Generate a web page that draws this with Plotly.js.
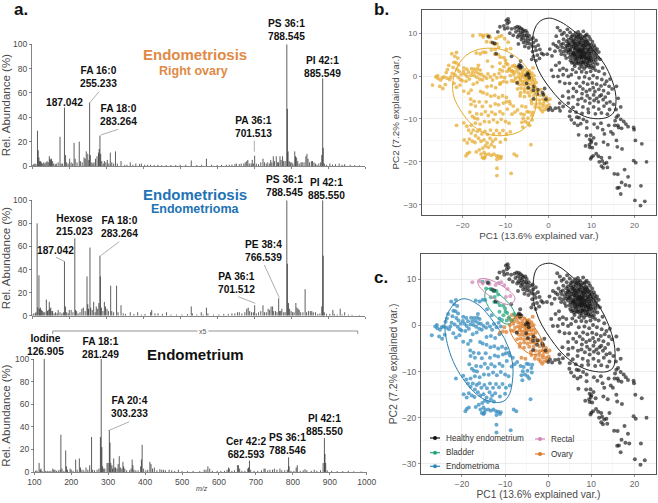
<!DOCTYPE html>
<html><head><meta charset="utf-8">
<script src="https://cdn.plot.ly/plotly-3.0.1.min.js"></script>
<style>html,body{margin:0;padding:0;background:#fff}#g{width:658px;height:503px}</style>
</head><body><div id="g"></div>
<script>
// ---- spectra: [m/z, relative abundance]
const spectrumRightOvary=[[101,1],[104,1.5],[107,2],[110,1.5],[114,29],[116,13],[118,7],[120,4],[122,4],[125,3],[128,2],[131,3],[134,2],[137,3],[140,4],[143,3],[146,8],[148,6],[150,5],[152,6],[155,4],[158,2],[162,1.5],[165,2],[170,3],[175,24],[178,2],[182,2],[187,48],[190,9],[193,3],[197,2],[201,6],[205,3],[209,2],[213,19],[216,6],[221,3],[227,20],[230,4],[235,3],[240,7],[243,6],[246,12],[250,10],[253,5],[255,52],[257,9],[261,3],[264,2],[267,3],[271,6],[275,8],[279,11],[281,14],[283,25],[285,10],[288,4],[292,2],[295,4],[299,3],[303,5],[307,2],[311,11],[315,3],[320,2],[325,12],[330,2],[340,4],[350,1],[356,1],[365,3],[372,1],[380,2],[390,1.5],[395,2],[404,1],[412,1],[420,1],[430,.8],[440,1],[450,.7],[462,.8],[475,.8],[488,.8],[500,1],[515,1],[530,4.5],[545,.8],[558,1],[571,6],[585,1],[600,.8],[612,1],[625,1],[633,1],[640,1.2],[648,1.5],[652,2],[660,1.5],[665,2],[672,2],[676,3],[680,4],[683,5],[687,2],[692,2],[695,5],[698,2],[701.5,8.5],[706,2],[712,1.5],[718,3],[724,6],[728,3],[733,2],[737,3],[742,2],[745,5],[748,3],[752,8],[755,4],[760,8],[763,3],[766,3],[770,8],[773,5],[777,8],[780,4],[784,4],[788.5,100],[790,47],[792,12],[795,4],[798,3],[802,3],[805,2],[810,12],[812,8],[815,7],[818,4],[822,2],[827,3],[830,3],[835,3],[840,8],[843,10],[846,6],[850,3],[855,4],[858,4],[862,3],[866,2],[870,1],[875,2],[880,3],[883,9],[885.5,72],[887,15],[890,2],[896,1],[905,2],[912,1.2],[920,1.5],[930,2],[938,1],[945,1.5],[960,1],[972,.7],[985,.5]];
const spectrumEndometrioma=[[101,1],[104,2],[108,2],[110,3],[113,80],[115,7],[118,35],[120,6],[122,7],[125,5],[128,4],[131,3],[134,3],[138,14],[141,4],[143,5],[146,12],[148,6],[150,7],[153,4],[155,4],[159,2],[163,3],[167,2],[170,5],[175,3],[180,2],[184,3],[187,47],[190,8],[193,3],[197,2],[200,5],[205,5],[210,3],[215,67],[217,5],[220,4],[224,2],[229,3],[234,6],[238,7],[243,4],[248,34],[250,10],[252,6],[256,59],[258,7],[262,5],[266,12],[270,3],[273,8],[276,6],[280,11],[283,52],[284,34],[287,7],[291,4],[295,12],[298,8],[302,6],[306,4],[312,26],[315,4],[320,3],[328,26],[332,3],[340,9],[346,2],[352,1.5],[365,3],[375,1.5],[385,3],[395,1],[405,1.5],[420,3],[423,5],[432,2],[440,2],[452,1.5],[463,3],[475,1],[490,1],[505,1],[520,1.5],[530,8],[533,2],[545,1],[557,3],[562,1],[571,7],[575,2],[590,1],[605,1],[618,1.5],[630,1.5],[640,2],[648,2],[655,3],[660,3],[667,2],[675,3],[680,6],[684,7],[688,4],[693,3],[698,3],[701.5,9],[706,2],[712,3],[718,4],[724,9],[728,3],[733,3],[738,6],[742,5],[746,8],[750,8],[753,4],[758,4],[762,3],[766.5,15],[769,4],[772,4],[775,6],[780,3],[784,3],[788.5,100],[790,45],[793,11],[796,6],[800,4],[804,3],[808,3],[813,11],[816,7],[819,6],[822,5],[826,3],[832,3],[838,23],[842,3],[847,4],[852,4],[856,4],[860,3],[866,3],[872,1.5],[878,2],[883,8],[885.5,100],[887,52],[890,3],[896,1.5],[905,1.5],[913,5],[917,1.5],[925,1],[933,6],[938,1],[945,3],[955,1],[965,.8],[985,.6]];
const spectrumEndometrium=[[103,1],[107,1.5],[113,8],[116,2],[118,3],[121,1],[126.9,100],[130,1],[135,1],[140,1],[145,1],[150,3],[153,2],[156,2],[160,1],[165,1.5],[170,2],[172,33],[175,3],[180,1],[185,19],[187,5],[190,2],[197,3],[200,2],[205,1],[212,11],[216,2],[222,12],[225,4],[229,2],[234,1.5],[240,4],[245,2],[250,6],[255,31],[258,2],[263,1.5],[270,2],[275,3],[279,31],[281.2,100],[283,22],[285,5],[288,3],[291,3],[297,8],[300,8],[303.2,37],[305,26],[307,8],[310,6],[312,3],[315,12],[318,4],[320,4],[324,3],[327,7],[330,14],[333,4],[337,3],[340,9],[342,5],[345,3],[350,1.5],[358,1.5],[362,3],[365,11],[367,6],[370,2],[375,1.5],[381,1.5],[388,5],[390,11],[392,24],[396,3],[402,1.5],[407,2],[413,9],[416,7],[420,3],[425,4],[432,1.5],[440,2.5],[445,2],[450,2],[455,1.5],[465,2],[472,1.5],[480,1],[490,2],[500,.8],[515,.8],[530,1],[548,.8],[560,2],[565,2],[570,5],[575,3],[582,1],[595,1],[605,1],[615,1],[622,2],[626,4],[628,3],[635,1],[642,1.5],[650,6],[653,6],[656,3],[662,1],[670,1],[678,3],[680,4],[682.6,10],[686,2],[695,1],[705,1],[715,1.5],[722,3],[725,3],[732,1.5],[738,2],[745,2],[750,3],[757,2],[765,3],[770,1.5],[778,1.5],[785,2],[788.5,13],[790,5],[795,1],[803,1],[809,4],[812,6],[820,1],[828,1.5],[833,2.5],[838,1.5],[850,1],[858,2],[865,1],[875,1.5],[882,8],[885.5,30],[887,16],[889,8],[893,1.5],[905,1],[920,.8],[935,.8],[950,1],[965,.6],[985,.5]];

// ---- PCA scores: [PC1, PC2]
const healthyUpperLeft=[[-9.4,13.3],[-9.8,13],[-9.2,12.6],[-9.6,12.2],[-10.4,11.7],[-11.3,11.5],[-10.2,11],[-9.5,11.2],[-11.8,10.3],[-9,10],[-8.6,11],[-7.8,11.2],[-7.3,11.5],[-6.8,11.4],[-6.4,11.1],[-6,10.8],[-7,10.7],[-7.6,10.3],[-6.5,10.2],[-5.8,10.4],[-5.3,10.6],[-5,10.1],[-6.1,9.8],[-6.9,9.6],[-5.6,9.5],[-5.1,9.4],[-6.4,9.2],[-5.9,8.9],[-4.9,8.9],[-4.5,9.4],[-7.2,9.1],[-8.2,9.5],[-6.3,8.5],[-5.4,8.3],[-4.7,8.2],[-4.1,8.6],[-3.6,8.9],[-5.8,7.8],[-5,7.6],[-4.3,7.5],[-3.5,7.8],[-2.9,8.3],[-3.8,7],[-3.1,6.8],[-2.4,7.2],[-4.6,6.6],[-5.5,6.9],[-7,7.5],[-2.9,6],[-2,6.2],[-3.7,5.7],[-1.6,5.3],[-2.6,4.9],[-3.5,4.6],[-3.9,3.9],[-2.9,3.6],[-2.1,4.1],[-1.2,5],[-6.5,3.5],[-13,7.8],[-12.5,7.6],[-14,9.2],[-12.2,5.2],[-8.6,4.6],[-6.8,2.6],[-6.5,2.4],[-6.2,2.1],[-7,2.2],[-6.6,1.9],[-4.8,.7],[-5.2,.2],[-4.6,.4],[-4.5,-.4],[-7.3,-1.6],[-5.1,-1.7],[-3.4,-2.4],[-2.5,-3.2],[-3.5,-3.3],[-2.6,-4.2],[-1.2,-4.4],[-1.4,-3.9],[-.9,-2.9],[-3.5,-5.3],[-4.7,-2.7],[-.6,-5.4],[.4,-7.4],[0,-7.9],[.9,-8],[1.6,-7.5],[2.4,-7.4],[2.7,-8.1]];
const healthyCore=[[2.1,11.3],[4.4,10.9],[2.7,10.6],[1.8,9.3],[3.1,9.7],[3.6,10.1],[4.3,9.4],[5,10.2],[5.6,9.6],[6.3,10],[6.9,10.3],[7.4,9.7],[8.1,10.4],[8.9,9.7],[8.4,9],[9.4,9.2],[5.2,8.8],[5.9,8.5],[6.5,9.2],[7.2,8.7],[7.7,8.3],[8.8,8.4],[9.7,8.6],[10.2,8],[3.5,8.6],[2.4,8],[4.2,8.1],[4.8,7.7],[5.4,8.2],[6.1,7.8],[6.8,8.1],[7.4,7.9],[8.1,7.6],[8.5,7.8],[9.2,7.7],[9.9,7.3],[10.6,7.2],[1.1,7.5],[1.7,7.1],[2.9,7.3],[3.4,7.6],[4.1,7.1],[4.9,7.2],[5.6,7.4],[6.3,7.2],[6.9,7.4],[7.6,7.3],[8.2,7],[8.9,7.1],[9.5,6.8],[10.1,6.7],[10.8,6.6],[11.3,6.3],[.3,6.3],[2.2,6.7],[3.2,6.7],[3.9,6.4],[4.4,6.8],[5.1,6.3],[5.8,6.9],[6.4,6.5],[7.1,6.8],[7.8,6.5],[8.3,6.3],[9.1,6.2],[9.8,6.4],[10.4,6],[11,5.8],[11.7,5.6],[1.5,5.8],[2.7,5.9],[3.5,5.7],[4.2,5.8],[4.7,6.1],[5.5,5.6],[6.1,6.1],[6.8,5.7],[7.4,6],[7.9,5.8],[8.7,5.6],[9.3,5.7],[9.9,5.3],[10.6,5.2],[11.1,5],[-.3,5.1],[.8,4.7],[3,5.1],[3.8,4.9],[4.6,5.4],[5.2,5],[5.8,5.2],[6.5,5],[7,5.3],[7.6,5],[8.3,4.9],[8.9,4.8],[9.6,4.7],[10.2,4.6],[10.9,4.4],[11.5,4.3],[12,3.9],[4.1,4.2],[4.9,4.4],[5.6,4.1],[6.2,4.5],[6.7,4.2],[7.3,4.5],[7.9,4.3],[8.6,4.1],[9.2,4],[9.8,4.2],[10.4,3.8],[11,3.7],[5.1,3.6],[5.8,3.3],[6.4,3.7],[7,3.4],[7.7,3.8],[8.2,3.5],[9,3.3],[9.5,3.5],[10.1,3.1],[10.8,3],[11.4,2.8],[6,2.8],[6.8,2.9],[7.4,2.6],[8.1,2.9],[8.7,2.6],[9.3,2.5],[9.9,2.4],[10.6,2.2],[5.3,9.2],[6.1,9.3],[7,9.6],[7.9,9.2],[8.6,9.4],[4.6,8.5],[5.7,8],[6.4,8.6],[7.1,7.7],[7.9,7.1],[8.6,7.3],[9.4,7.4],[4.6,7.5],[5.3,6.8],[6,6.5],[6.6,7],[7.3,6.3],[8,6.1],[8.6,6.6],[9.3,6.1],[10,5.8],[5,5.9],[5.9,5.4],[6.4,5.6],[7,6],[7.6,5.6],[8.3,5.5],[8.9,5.3],[9.5,5.2],[5.6,4.8],[6.1,4.9],[6.8,4.6],[7.4,4.9],[8,4.7],[8.5,4.5],[9.3,4.4],[9.9,3.7],[6.3,4],[7.2,4.1],[7.9,3.2],[8.5,3.3],[9.2,3],[6.6,3.1],[7.5,3.1],[8.8,2.2],[7.8,2.2],[9.6,2],[10.3,1.8],[6.9,9.1],[7.6,8.8],[8.3,8.2],[9,8.1],[6.2,7.6],[6.8,6.2],[7.4,5.5],[8.1,5.2],[8.7,4.1],[9.4,3.9],[7.7,4.4],[5.4,3.1],[6.1,2.3],[7.2,1.8],[8.3,1.7]];
const healthySparse=[[.7,1.4],[1.1,-.1],[2.6,1.4],[3.4,1.8],[4.2,1.4],[2.2,-.1],[3.4,.3],[4.6,-.1],[5.3,.3],[2.6,-1.3],[3.8,-1.7],[4.9,-1.7],[6.5,-1.7],[7.3,-2.4],[4.6,-3.6],[6.5,-3.6],[8.8,-3.6],[9.6,-3.2],[10.8,-3.6],[5.7,-4.8],[7.7,-5.2],[9.6,-5.2],[11.2,-5.2],[12.3,-4.4],[13.9,-4],[2.6,-6.3],[4.6,-6.3],[6.9,-5.5],[9.6,-6.3],[11.6,-6],[12.7,-5.5],[14.3,-6],[16.2,-5.2],[15.8,-2.4],[2.5,3.1],[1.7,2.5],[5.6,1.5],[6.4,.9],[7.7,1],[8.8,.8],[9.8,1.1],[10.9,1.4],[11.7,1.1],[12.6,1.9],[13,.5],[7.1,-.4],[8.4,-.2],[9.5,-.6],[10.4,.1],[11.3,-.4],[12.4,-.8],[13.5,-1.2],[14.3,-.7],[8.1,-1.5],[9.1,-1.9],[10.2,-1.6],[11.2,-1.9],[12.2,-2.3],[13.1,-1.9],[14.1,-2.4],[14.8,-3],[5.8,-2.9],[8,-3],[10.4,-2.7],[11.7,-3.1],[12.8,-3.4],[7.8,-4.1],[9,-4.6],[10.5,-4.4],[11.9,-4.7],[13.2,-4.9],[3.3,-4.7],[4.7,-5.1],[8.5,-5.8],[10.6,-5.7],[13.5,-6.3],[15.1,-6.6],[3.4,-7.1],[5.7,-7.3],[6.8,-6.6],[8,-7.2],[9.2,-7.7],[10.5,-7.2],[11.7,-7.7],[12.9,-7],[14.2,-7.8],[15.7,-7.8],[16.8,-7.2],[6.4,-8.4],[7.8,-8.7],[9.3,-8.5],[10.9,-8.8],[12.3,-8.6],[13.7,-8.9],[5,-8.2]];
const healthyTail=[[6.6,-9.6],[5.3,-10.2],[7.1,-9.7],[8.1,-10.1],[8.9,-10.6],[7.5,-11.1],[6.8,-11.5],[7,-13.7],[8.8,-13.9],[9.8,-13.8],[9.6,-14.8],[10,-15.1],[10.5,-14.4],[9.9,-15.5],[9.5,-16],[9.6,-16.6],[10.2,-16.7],[11,-15.8],[8.6,-16.3],[10.4,-18.6],[11.1,-18.1],[11.6,-18.7],[12.3,-19],[10,-18.9],[9.8,-19.3],[11.8,-20],[12.5,-19.8],[13,-20.4],[13.5,-20.2],[12.3,-21],[12.7,-21.4],[13.7,-21.3],[14.2,-19],[16.1,-22.9],[15.3,-22.8],[18.5,-23.5],[17.7,-21.8],[19.8,-19.7],[20.3,-20.2],[22.8,-20],[21.7,-15.8],[20.2,-15],[17.1,-17],[16,-16.5],[15.8,-15],[15,-13.5],[14.5,-13],[16.3,-12],[13,-13.5],[12.8,-15.4],[13.8,-16],[12.6,-12.5],[11.4,-12],[12.2,-11],[14,-11.5],[15.5,-10.4],[15.8,-9.6],[16.2,-9.2],[16.8,-10.1],[17.5,-10.6],[18,-11.2],[18.5,-11.8],[19.8,-12],[19.9,-12.5],[17,-12.2],[16.1,-11.5],[15.4,-11.5],[16.4,-26],[17,-24.8],[17.9,-25.4],[18.8,-25.6],[16.8,-27.5],[20.1,-29],[21.4,-30.2],[22.4,-29.2],[21.5,-25.6],[16,-26.1],[8.9,-12.1],[10.6,-11.2],[4.9,-9.4],[6,-11]];
const endometriomaPts=[[-27,-2.1],[-26.2,-.2],[-25.7,-.6],[-25.8,.1],[-25.1,-.9],[-24.7,-.4],[-24.3,-.2],[-25.3,-2.4],[-24.6,-2.9],[-24,-2],[-23.8,.8],[-23.5,1.5],[-23.2,2.5],[-23.6,-.5],[-23,-.8],[-22.7,-.2],[-22.4,.6],[-22.2,2],[-22,3.2],[-21.8,4.6],[-22.5,5.2],[-21.4,5.5],[-21.1,4.2],[-21.5,3.1],[-20.9,2.6],[-21.3,1.6],[-20.8,1.1],[-21.7,.2],[-21,-.3],[-20.5,-.8],[-22,-1.7],[-21.4,-2.6],[-20.6,-2.1],[-20.1,-1.1],[-20.3,.4],[-19.8,1],[-19.4,.4],[-19.7,1.9],[-19,1.6],[-18.6,.9],[-18.9,-.1],[-19.2,-1.2],[-18.4,-.7],[-18,.2],[-17.6,.9],[-17.9,1.7],[-17.2,1.6],[-16.8,.9],[-17.3,.1],[-16.7,-.3],[-16.2,.5],[-16.5,1.7],[-15.9,1.4],[-15.6,.4],[-16,-.7],[-15.4,-.9],[-16.6,-1.5],[-17.5,-1.9],[-15,-.1],[-14.4,-.5],[-14.1,.5],[-13.5,-.2],[-13,-.9],[-12.6,.3],[-12,-.4],[-11.5,.6],[-11,-.2],[-14.3,-2.5],[-13.3,-2.3],[-12.3,-2.7],[-11.3,-1.9],[-16.3,2.5],[-14.6,5.5],[-15.2,5.6],[-15.9,5.2],[-16.8,5.4],[-14.2,3.5],[-13.1,2.2],[-11.3,1.5],[-18.6,-4],[-18,-3.3],[-19.7,-3.5],[-18.1,-5.4],[-17.3,-5.9],[-18,-6.6],[-17,-7],[-16.1,-6],[-15.2,-3.9],[-15.8,-3.6],[-14.3,-4.2],[-13.4,-4.7],[-12.5,-4.5],[-11.6,-5],[-10.7,-4.6],[-9.8,-5],[-9.1,-5.9],[-9.8,-6],[-10.5,-6.3],[-8.9,-6.5],[-8.2,-7],[-11.6,-6.7],[-12.4,-6.5],[-13.5,-7],[-14.5,-6],[-15.4,-7.1],[-16.7,-8.8],[-18.3,-8.4],[-17.7,-9.4],[-17.2,-9.8],[-16.5,-10],[-15.6,-8.9],[-14.7,-8.3],[-14,-9.2],[-13.2,-8.4],[-12.4,-8.9],[-11.3,-8.3],[-10.6,-8.8],[-9.6,-7.7],[-8.5,-8.9],[-7.8,-8.4],[-7.2,-7.9],[-6.4,-8.8],[-5.7,-9],[-5,-8.3],[-4.5,-8.4],[-3.7,-8.5],[-3.9,-9.2],[-4.8,-9.8],[-5.9,-9.9],[-3.8,-10.2],[-5.4,-10.6],[-6.2,-10.8],[-4.8,-11],[-4.4,-11.5],[-6,-11.9],[-21.4,-11.5],[-19.7,-10.9],[-19,-11.7],[-18,-11.5],[-17,-11],[-15.9,-11.2],[-14.9,-10.6],[-13.8,-10.7],[-12.8,-10.2],[-11.9,-10.8],[-11,-10.1],[-10,-10.6],[-9.2,-11],[-18.6,-12.6],[-18,-13.3],[-17.5,-12.6],[-17,-13.9],[-16.6,-12.9],[-16,-12.5],[-15.5,-13.5],[-14.8,-12.9],[-14.2,-13.6],[-13.5,-12.6],[-12.8,-13.5],[-12.1,-12.7],[-11.4,-13.4],[-10.6,-12.7],[-9.8,-13.5],[-8.9,-13],[-19.6,-14.9],[-18.9,-15.6],[-18.4,-14.7],[-17.7,-15.2],[-17.1,-15.5],[-16.3,-14.5],[-15.7,-15.2],[-15,-14.9],[-14.3,-15.6],[-13.6,-14.5],[-13,-15.2],[-12.3,-14.7],[-11.2,-15.4],[-10,-14.8],[-4.1,-16],[-14.7,-16.3],[-14,-16.6],[-13.3,-16],[-12.6,-16.5],[-18.9,-18.1],[-19.2,-18.6],[-18.4,-17.8],[-16.8,-17.7],[-16.1,-17.2],[-15.3,-16.8],[-15,-17.8],[-14.6,-18.3],[-13.9,-18.2],[-13.3,-18.5],[-12.7,-18.2],[-12.1,-18.6],[-11.6,-18.7],[-11.2,-19.2],[-15.7,-18.2],[-15.4,-19],[-14.8,-18.9],[-11,-18.8],[-12,-19.4],[-8,-18.2],[-7.4,-18.6],[-12,-21.5],[-12,-23.2],[-8.7,-22.7],[-15,-19.2]];
const ovaryPts=[[-9.1,1.5],[-8.4,1.2],[-7.9,.9],[-8.9,.1],[-8.1,.4],[-7.3,1.4],[-7,.7],[-6.5,1.6],[-6,1],[-5.5,1.5],[-5,.9],[-4.5,1.2],[-6.4,.4],[-5.7,.3],[-5,.2],[-4.4,.4],[-3.9,.7],[-7.7,-.5],[-7,-.2],[-6.5,-.5],[-6,-.1],[-5.5,-.4],[-5,-.5],[-4.5,-.2],[-4,-.3],[-3.4,.1],[-10.5,-1.3],[-9.7,-1.4],[-8.6,-1.1],[-8,-1.2],[-7.2,-1.4],[-6.6,-1],[-6.1,-1.3],[-5.5,-1.2],[-5,-1.1],[-4.4,-1],[-3.8,-1.1],[-3.3,-.8],[-6.8,-2],[-6.1,-2],[-5.5,-2.1],[-4.8,-1.9],[-4.1,-1.9],[-3.5,-1.9],[-2.9,-1.5],[-7.2,-3],[-6.4,-2.8],[-5.6,-3],[-4.9,-2.9],[-4.2,-3],[-3.6,-2.7],[-3,-2.7],[-6.5,-3.9],[-5.6,-3.7],[-4.8,-3.9],[-4,-3.7],[-3.2,-3.8],[-2.5,-3.6],[-1.8,-3.2],[-2,-4.5],[-1.1,-4.2],[-3.4,-4.6],[-4.4,-4.6],[-5.6,-4.8],[-6.6,-4.6],[-4,-5.7],[-3,-5.5],[-2.1,-5.6],[-1.3,-5.4],[-.5,-4.9],[-.9,-5.7],[-3.9,-6.4],[-2.9,-6.5],[-2,-6.4],[-1.2,-6.4],[-.3,-5.8],[.3,-5.4],[-3.1,-7.2],[-2.2,-7.3],[-1.3,-7],[-.5,-7],[.1,-6.7],[-1.8,-7.8],[-.9,-7.8],[-.3,-7.6],[-5.3,-7.2],[-6.2,-7],[-1.4,-8.3],[-11.2,-1.6],[-10.2,-.4],[-3.6,1.9],[-7.6,2],[-8.4,2.3]];
const bladderPts=[[-15.2,9.5],[-13.8,9.4],[-14.4,8],[-13.4,7.9],[-12.6,7.4],[-12,7.5],[-11.6,6.7],[-12.4,6.2],[-13.3,6.1],[-12.5,5.1],[-11.7,5],[-11.2,4.4],[-10.4,4.3],[-10,3.7],[-9.9,3],[-10.4,2.2],[-9.5,2.7],[-9.1,1.8],[-9.6,1.1],[-8.6,1.1],[-7.9,2.5],[-11.3,3],[-10.7,1.2]];
const rectalPts=[[-17.6,9.4],[-15.9,9.6],[-15.2,9.1],[-14.3,9.6],[-13.6,9],[-12.2,8.8],[-11.5,9.2],[-10.9,9.4],[-10.2,8.7],[-9.4,7.9],[-9.8,6.2],[-8.8,6.4]];

const healthyEllipseB=[[0,13.5],[-2.3,12.5],[-3.7,8.9],[-3,3],[.3,-2.8],[5,-7.5],[10.4,-9.9],[14.7,-9],[15.7,-5.5],[13.9,1.1],[10.4,6.1],[5,11.2],[2,13]];
const allEllipseB=[[-13.6,6.5],[-18.3,5.4],[-21.2,2.2],[-22.3,-3.2],[-20.6,-7.8],[-16,-12.7],[-10.9,-13.9],[-5.5,-12.1],[-2.8,-6.3],[-4.3,.7],[-9,5.4]];
const healthyEllipseC=[[0,13.5],[-2.5,12.5],[-3.5,8.9],[-2.8,3],[.5,-2.8],[5,-7.5],[10.4,-9.9],[14.7,-9.5],[15.5,-5.8],[13.7,.8],[10.4,5.9],[5,11],[2,13]];
const endometriomaEllipse=[[-20.2,5.7],[-23.6,1.9],[-23.4,-3.9],[-19.8,-11.5],[-14.4,-16.2],[-10,-16.2],[-8.2,-11.1],[-9.3,-4.6],[-13.6,1.9],[-16.7,4.8]];
const bladderEllipse=[[-14,8],[-14.7,6.2],[-12.4,2.2],[-9.3,.3],[-7.7,1.9],[-8.5,4],[-11.6,6.9]];
const rectalEllipse=[[-16.3,9.8],[-15.1,10.2],[-11.6,9.1],[-7.7,5.9],[-8.9,4.6],[-12,5.5],[-15.9,8.4]];
const ovaryEllipse=[[-8.1,1.5],[-8.9,-.7],[-6.5,-4.6],[-3.4,-6.3],[-1.4,-5.4],[-1.8,-2.5],[-4.9,1.2],[-6.9,2]];

const mzTicks=[100,200,300,400,500,600,700,800,900,1000];
const abundanceTicks=[0,20,40,60,80,100];
const legendNames=['Healthy endometrium','Bladder','Endometrioma','Rectal','Ovary'];
const W=658,H=503;
const colBlack='#141414',colYellow='#E6A92B',colBlue='#2E88BE',colOrange='#DC7A26',colGreen='#23A67F',colPink='#CF85B5';

const px=x=>x/W, py=y=>1-y/H;
const col=(a,i)=>a.map(p=>p[i]);
function stems(data,xa,ya){const x=[],y=[];data.forEach(p=>{x.push(p[0],p[0],null);y.push(0,p[1],null)});
  return {type:'scatter',mode:'lines',x,y,xaxis:xa,yaxis:ya,hoverinfo:'skip',showlegend:false,line:{color:'#1a1a1a',width:.7}}}
function pts(data,color,xa,ya,size,op=.68){return {type:'scatter',mode:'markers',x:col(data,0),y:col(data,1),xaxis:xa,yaxis:ya,showlegend:false,hoverinfo:'skip',
  marker:{color,size,opacity:op,line:{width:0}}}}
function ell(data,color,xa,ya){const d=data.concat([data[0]]);return {type:'scatter',mode:'lines',x:col(d,0),y:col(d,1),xaxis:xa,yaxis:ya,showlegend:false,hoverinfo:'skip',
  line:{color,width:1,shape:'spline',smoothing:1.1}}}

const healthyPts=healthyUpperLeft.concat(healthyCore,healthySparse,healthyTail);
const others=endometriomaPts.concat(ovaryPts,bladderPts,rectalPts);
const traces=[
 stems(spectrumRightOvary,'x','y'),stems(spectrumEndometrioma,'x2','y2'),stems(spectrumEndometrium,'x3','y3'),
 pts(others,colYellow,'x4','y4',3.8,.72),pts(healthyPts,colBlack,'x4','y4',3.8,.66),
 ell(healthyEllipseB,'#222','x4','y4'),ell(allEllipseB,colYellow,'x4','y4'),
 pts(endometriomaPts,colBlue,'x5','y5',4,.72),pts(ovaryPts,colOrange,'x5','y5',4,.72),pts(bladderPts,colGreen,'x5','y5',4,.72),pts(rectalPts,colPink,'x5','y5',4,.72),pts(healthyPts,colBlack,'x5','y5',4,.66),
 ell(healthyEllipseC,'#222','x5','y5'),ell(endometriomaEllipse,'#2a7fae','x5','y5'),ell(bladderEllipse,colGreen,'x5','y5'),ell(rectalEllipse,colPink,'x5','y5'),ell(ovaryEllipse,colOrange,'x5','y5')
];

const FONT='"Liberation Sans",Arial,sans-serif';
const axGray='#666',txtGray='#4a4a4a';
function specX(dom,labels,anchor){return {domain:dom,anchor,range:[100,1000],tickmode:'array',tickvals:mzTicks,ticktext:mzTicks.map(String),
  showticklabels:labels,ticks:'outside',ticklen:2,tickwidth:.8,tickcolor:axGray,showgrid:false,zeroline:false,showline:true,linecolor:axGray,linewidth:.8,
  tickfont:{size:8.5,color:txtGray,family:FONT}}}
function specY(dom,anchor){return {domain:dom,anchor,range:[0,100],tickmode:'array',tickvals:abundanceTicks,ticks:'outside',ticklen:2.5,tickwidth:.8,tickcolor:axGray,
  showgrid:false,zeroline:false,showline:true,linecolor:axGray,linewidth:.8,tickfont:{size:8.5,color:txtGray,family:FONT},
  title:{text:'Rel. Abundance (%)',font:{size:11.5,color:txtGray,family:FONT},standoff:2}}}
function pcaX(dom,anchor,size,tsize,standoff){return {domain:dom,anchor,range:[-29.5,25],tickmode:'array',tickvals:[-20,-10,0,10,20],ticktext:['\u221220','\u221210','0','10','20'],
  ticks:'outside',ticklen:2,tickwidth:.8,tickcolor:'#777',showline:true,mirror:true,linecolor:'#555',linewidth:1,zeroline:false,
  showgrid:true,gridcolor:'#e9e9e9',gridwidth:.8,minor:{tickvals:[-25,-15,-5,5,15],showgrid:true,gridcolor:'#f3f3f3',gridwidth:.6,ticks:''},
  tickfont:{size,color:'#666',family:FONT},title:{text:'PC1 (13.6% explained var.)',font:{size:tsize,color:txtGray,family:FONT},standoff}}}
function pcaY(dom,anchor,range,size,tsize,standoff){return {domain:dom,anchor,range,tickmode:'array',tickvals:[-30,-20,-10,0,10],ticktext:['\u221230','\u221220','\u221210','0','10'],
  ticks:'outside',ticklen:2,tickwidth:.8,tickcolor:'#777',showline:true,mirror:true,linecolor:'#555',linewidth:1,zeroline:false,
  showgrid:true,gridcolor:'#e9e9e9',gridwidth:.8,minor:{tickvals:[-25,-15,-5,5],showgrid:true,gridcolor:'#f3f3f3',gridwidth:.6,ticks:''},
  tickfont:{size,color:'#666',family:FONT},title:{text:'PC2 (7.2% explained var.)',font:{size:tsize,color:txtGray,family:FONT},standoff}}}

function lab(text,x,y,size=10.2,color='#111',bold=true,extra={}){return Object.assign({text:bold?'<b>'+text+'</b>':text,xref:'paper',yref:'paper',x:px(x),y:py(y),xanchor:'center',yanchor:'middle',showarrow:false,align:'center',
  font:{family:FONT,size,color}},extra)}
// legend rows of panel c: name index, glyph centre x, row y, colour
const legendRows=[[0,435,438,'#111'],[1,435,452.7,colGreen],[2,435,466.3,colBlue],[3,540,439,colPink],[4,540,454,colOrange]];
const annotations=[
 lab('a.',21,9,17),lab('b.',381.5,9,17),lab('c.',381,277,17),
 lab('PS 36:1<br>788.545',286,30),lab('PI 42:1<br>885.549',322.7,66.7),lab('FA 16:0<br>255.233',98.3,76.7),lab('187.042',64,102),lab('FA 18:0<br>283.264',118.3,115),lab('PA 36:1<br>701.513',253.3,126.7),
 lab('Endometriosis',195.3,55,15,'#E08A45'),lab('Right ovary',193.7,70.7,12.5,'#E08A45'),
 lab('PS 36:1<br>788.545',284,185.7),lab('PI 42:1<br>885.550',326,189),lab('Hexose<br>215.023',74.7,225),lab('FA 18:0<br>283.264',119.3,226.7),lab('187.042',55.7,250),lab('PE 38:4<br>766.539',263.3,251),lab('PA 36:1<br>701.512',236.7,283.3),
 lab('Endometriosis',195.3,194,15,'#2273B5'),lab('Endometrioma',195,209,12.5,'#2273B5'),
 lab('Iodine<br>126.905',45.7,345),lab('FA 18:1<br>281.249',100.7,348),lab('FA 20:4<br>303.233',129.3,407.3),lab('PI 42:1<br>885.550',324,425),lab('PS 36:1<br>788.546',287.3,444.3),lab('Cer 42:2<br>682.593',246,448.3),
 lab('Endometrium',195,354,15,'#111'),
 lab('x5',203,331,7,'#555',false,{bgcolor:'#fff'}),
 lab('<i>m/z</i>',201.7,488.5,7,'#444',false)
].concat(legendRows.map(r=>lab(legendNames[r[0]],r[1]+9,r[2],8.2,'#333',false,{xanchor:'left'})));
function seg(x0,y0,x1,y1,color='#999',w=.8){return {type:'line',xref:'paper',yref:'paper',x0:px(x0),y0:py(y0),x1:px(x1),y1:py(y1),line:{color,width:w}}}
const shapes=[
 seg(89.3,103.3,99,91.7),seg(100.7,135,118.3,129.3),seg(254.3,151.7,254.3,140.7),
 seg(65,261.7,56,257.3),seg(100.7,255.7,119.3,241.7),seg(279.3,297.7,264.3,265),seg(255.3,303.3,238.3,296.7),
 seg(108.3,430.7,129.3,421.7),
 seg(52.7,331,357.7,331,'#777'),seg(52.7,331,52.7,334,'#777'),seg(357.7,331,357.7,334,'#777')
];
legendRows.forEach(r=>{
 shapes.push(seg(r[1]-5,r[2],r[1]+5,r[2],r[3],1.2));
 shapes.push({type:'circle',xref:'paper',yref:'paper',x0:px(r[1]-2),x1:px(r[1]+2),y0:py(r[2]-2),y1:py(r[2]+2),fillcolor:r[3],line:{width:0}});
});

const layout={width:W,height:H,margin:{l:0,r:0,t:0,b:0},paper_bgcolor:'#fff',plot_bgcolor:'#fff',font:{family:FONT},showlegend:false,
 xaxis:specX([px(32.3),px(365)],false,'y'),yaxis:specY([py(166),py(44.3)],'x'),
 xaxis2:specX([px(32.3),px(365)],false,'y2'),yaxis2:specY([py(315.7),py(200.3)],'x2'),
 xaxis3:specX([px(34.3),px(366.7)],true,'y3'),yaxis3:specY([py(472),py(359)],'x3'),
 xaxis4:pcaX([px(421.7),px(656)],'y4',8,9.8,1),yaxis4:pcaY([py(215),py(10)],'x4',[-32.4,15.4],8,9.8,2),
 xaxis5:pcaX([px(421),px(656)],'y5',8.5,10.2,2),yaxis5:pcaY([py(474),py(254)],'x5',[-32.2,15.5],8.5,10.4,2),
 annotations,shapes
};
Plotly.newPlot('g',traces,layout,{displayModeBar:false,staticPlot:true});
</script></body></html>
